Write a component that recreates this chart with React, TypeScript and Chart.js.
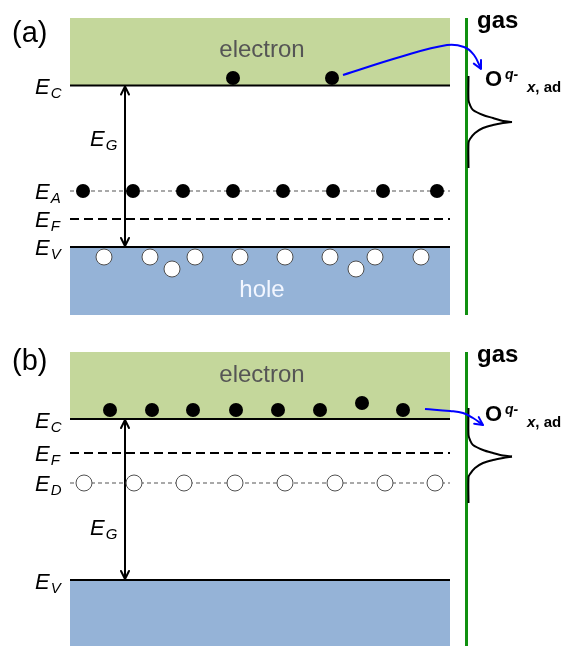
import React, { useEffect, useRef } from "react";
import { Chart, registerables } from "chart.js";

Chart.register(...registerables);

// ---------- diagram data (diagram units: x to the right, energy drawn downward) ----------
const WIDTH = 563;
const HEIGHT = 646;
const FONT = "'Liberation Sans', Arial, sans-serif";

const bandX = [70, 450]; // left / right edge of the semiconductor bands

// panel (a) p-type
const cbTopA = 18;
const levelNamesA = ["C", "A", "F", "V"];
const levelsA = [85.5, 191, 219, 247]; // EC, EA, EF, EV
const vbBottomA = 315;
const electronsAx = [233, 332];
const electronsAy = [78, 78];
const acceptorsX = [83, 133, 183, 233, 283, 333, 383, 437];
const holesAx = [104, 150, 172, 195, 240, 285, 330, 356, 375, 421];
const holesAy = [257, 257, 269, 257, 257, 257, 257, 269, 257, 257];
const transferAx = [343, 400, 447, 464, 474, 481];
const transferAy = [75, 57, 45, 47, 55, 69];
const adsUpperAx = [468.5, 468.5, 470, 473, 483, 493, 503, 512];
const adsUpperAy = [76, 100, 105, 110, 115, 118, 121, 122];
const adsLowerAx = [512, 503, 493, 483, 475, 470, 468.5, 468.5];
const adsLowerAy = [122, 123, 125, 128, 133, 139, 143, 168];
const gasLineA = [18, 315];

// panel (b) n-type
const cbTopB = 352;
const levelNamesB = ["C", "F", "D", "V"];
const levelsB = [419, 453, 483, 580]; // EC, EF, ED, EV
const vbBottomB = 646;
const electronsBx = [110, 152, 193, 236, 278, 320, 362, 403];
const electronsBy = [410, 410, 410, 410, 410, 410, 403, 410];
const donorsX = [84, 134, 184, 235, 285, 335, 385, 435];
const transferBx = [425, 450, 463, 473, 483];
const transferBy = [409, 411, 413, 418, 425];
const adsUpperBx = [468.5, 468.5, 470, 473, 483, 493, 503, 512];
const adsUpperBy = [408, 435, 440, 445, 450, 453, 455.5, 456.5];
const adsLowerBx = [512, 503, 493, 483, 475, 470, 468.5, 468.5];
const adsLowerBy = [456.5, 458, 460, 463, 468, 474, 477, 503];
const gasLineB = [352, 646];

const gapArrowX = 125;
const gasX = 466.5;

// text labels
const panelTags = ["(a)", "(b)"];
const panelTagY = [42, 370];
const electronLabelY = [57, 382];
const holeLabelY = 297;
const gasLabelY = [28, 362];
const oxLabelY = [86, 421];
const labelBaselinesA = [94, 199, 227, 255];
const labelBaselinesB = [428, 461, 491, 589];
const gapLabelY = [146, 535];

const GREEN = "#c4d79b";
const BLUE = "#95b3d7";

const pts = (xs: number[], ys: number[]) => xs.map((x, i) => ({ x, y: ys[i] }));
const hline = (y: number) => [
  { x: bandX[0], y },
  { x: bandX[1], y },
];

function buildDatasets(): any[] {
  const ds: any[] = [];
  const base = { pointRadius: 0, pointHoverRadius: 0, tension: 0, clip: false };

  // band boxes
  ds.push({ ...base, data: hline(cbTopA), fill: { value: levelsA[0] }, backgroundColor: GREEN, borderWidth: 0, order: 30 });
  ds.push({ ...base, data: hline(vbBottomA), fill: { value: levelsA[3] }, backgroundColor: BLUE, borderWidth: 0, order: 30 });
  ds.push({ ...base, data: hline(cbTopB), fill: { value: levelsB[0] }, backgroundColor: GREEN, borderWidth: 0, order: 30 });
  ds.push({ ...base, data: hline(vbBottomB), fill: { value: levelsB[3] }, backgroundColor: BLUE, borderWidth: 0, order: 30 });

  // band edges
  for (const y of [levelsA[0], levelsA[3], levelsB[0], levelsB[3]]) {
    ds.push({ ...base, data: hline(y), borderColor: "#000", borderWidth: 2, fill: false, order: 20 });
  }
  // Fermi levels
  for (const y of [levelsA[2], levelsB[1]]) {
    ds.push({ ...base, data: hline(y), borderColor: "#000", borderWidth: 2, borderDash: [9, 5], fill: false, order: 20 });
  }
  // acceptor / donor levels
  for (const y of [levelsA[1], levelsB[2]]) {
    ds.push({ ...base, data: hline(y), borderColor: "#555", borderWidth: 1.2, borderDash: [4, 3], fill: false, order: 20 });
  }

  // gas boundary lines
  ds.push({ ...base, data: [{ x: gasX, y: gasLineA[0] }, { x: gasX, y: gasLineA[1] }], borderColor: "#109010", borderWidth: 3, fill: false, order: 19 });
  ds.push({ ...base, data: [{ x: gasX, y: gasLineB[0] }, { x: gasX, y: gasLineB[1] }], borderColor: "#109010", borderWidth: 3, fill: false, order: 19 });

  // adsorbate density of states curves
  for (const [xs, ys] of [
    [adsUpperAx, adsUpperAy],
    [adsLowerAx, adsLowerAy],
    [adsUpperBx, adsUpperBy],
    [adsLowerBx, adsLowerBy],
  ] as number[][][]) {
    ds.push({ ...base, data: pts(xs, ys), borderColor: "#000", borderWidth: 2, tension: 0.3, fill: false, order: 18 });
  }

  // band-gap arrows
  ds.push({ ...base, data: [{ x: gapArrowX, y: levelsA[0] + 1 }, { x: gapArrowX, y: levelsA[3] - 1 }], borderColor: "#000", borderWidth: 2, fill: false, order: 10, arrowHeads: { start: true, end: true, len: 8, half: 4 } });
  ds.push({ ...base, data: [{ x: gapArrowX, y: levelsB[0] + 1 }, { x: gapArrowX, y: levelsB[3] - 1 }], borderColor: "#000", borderWidth: 2, fill: false, order: 10, arrowHeads: { start: true, end: true, len: 8, half: 4 } });

  // electron transfer arrows
  ds.push({ ...base, data: pts(transferAx, transferAy), borderColor: "#0000ff", borderWidth: 2, tension: 0.4, fill: false, order: 10, arrowHeads: { end: true, len: 8, half: 4 } });
  ds.push({ ...base, data: pts(transferBx, transferBy), borderColor: "#0000ff", borderWidth: 2, tension: 0.4, fill: false, order: 10, arrowHeads: { end: true, len: 8, half: 4 } });

  // electrons (filled)
  const electronStyle = { showLine: false, pointRadius: 7, pointHoverRadius: 7, pointBackgroundColor: "#000", pointBorderColor: "#000", pointBorderWidth: 0, clip: false, order: 5 };
  ds.push({ ...electronStyle, data: pts(electronsAx, electronsAy) });
  ds.push({ ...electronStyle, data: acceptorsX.map((x) => ({ x, y: levelsA[1] })) });
  ds.push({ ...electronStyle, data: pts(electronsBx, electronsBy) });

  // holes (open)
  const holeStyle = { showLine: false, pointRadius: 8, pointHoverRadius: 8, pointBackgroundColor: "#fff", pointBorderColor: "#505050", pointBorderWidth: 1, clip: false, order: 5 };
  ds.push({ ...holeStyle, data: pts(holesAx, holesAy) });
  ds.push({ ...holeStyle, data: donorsX.map((x) => ({ x, y: levelsB[2] })) });

  return ds;
}

const arrowPlugin = {
  id: "arrowHeads",
  afterDatasetsDraw(chart: any) {
    const ctx = chart.ctx;
    chart.data.datasets.forEach((ds: any, i: number) => {
      if (!ds.arrowHeads) return;
      const p = chart.getDatasetMeta(i).data;
      const heads: any[] = [];
      if (ds.arrowHeads.end) heads.push([p[p.length - 2], p[p.length - 1]]);
      if (ds.arrowHeads.start) heads.push([p[1], p[0]]);
      for (const [a, b] of heads) {
        const ang = Math.atan2(b.y - a.y, b.x - a.x);
        const c = Math.cos(ang), s = Math.sin(ang);
        const L = ds.arrowHeads.len, H = ds.arrowHeads.half;
        const bx = b.x - L * c, by = b.y - L * s;
        ctx.save();
        ctx.strokeStyle = ds.borderColor;
        ctx.lineWidth = ds.borderWidth;
        ctx.lineCap = "round";
        ctx.lineJoin = "round";
        ctx.beginPath();
        ctx.moveTo(bx - H * s, by + H * c);
        ctx.lineTo(b.x, b.y);
        ctx.lineTo(bx + H * s, by - H * c);
        ctx.stroke();
        ctx.restore();
      }
    });
  },
};

type Run = { t: string; font: string; dx?: number; dy?: number };

const textPlugin = {
  id: "diagramText",
  afterDraw(chart: any) {
    const ctx = chart.ctx;
    const X = (v: number) => chart.scales.x.getPixelForValue(v);
    const Y = (v: number) => chart.scales.y.getPixelForValue(v);
    const runs = (x: number, y: number, list: Run[], color = "#000") => {
      let cx = X(x);
      const cy = Y(y);
      ctx.fillStyle = color;
      ctx.textAlign = "left";
      ctx.textBaseline = "alphabetic";
      for (const r of list) {
        ctx.font = r.font;
        cx += r.dx || 0;
        ctx.fillText(r.t, cx, cy + (r.dy || 0));
        cx += ctx.measureText(r.t).width;
      }
    };
    const center = (x: number, y: number, t: string, font: string, color: string) => {
      ctx.font = font;
      ctx.fillStyle = color;
      ctx.textAlign = "center";
      ctx.textBaseline = "alphabetic";
      ctx.fillText(t, X(x), Y(y));
    };
    const eLabel = (x: number, y: number, sub: string) =>
      runs(x, y, [
        { t: "E", font: `italic 22px ${FONT}` },
        { t: sub, font: `italic 15px ${FONT}`, dx: 1, dy: 4 },
      ]);

    ctx.save();
    // panel tags
    panelTags.forEach((t, i) => runs(12, panelTagY[i], [{ t, font: `29px ${FONT}` }]));
    // band names
    electronLabelY.forEach((y) => center(262, y, "electron", `24px ${FONT}`, "#555555"));
    center(262, holeLabelY, "hole", `24px ${FONT}`, "#f2f6ff");
    // gas side
    gasLabelY.forEach((y) => runs(477, y, [{ t: "gas", font: `bold 24px ${FONT}` }]));
    oxLabelY.forEach((y) => {
      runs(485, y, [{ t: "O", font: `bold 22px ${FONT}` }]);
      runs(505, y - 7, [{ t: "q-", font: `italic bold 14px ${FONT}` }]);
      runs(527, y + 6, [
        { t: "x", font: `italic bold 15px ${FONT}` },
        { t: ", ad", font: `bold 15px ${FONT}` },
      ]);
    });
    // energy levels
    levelNamesA.forEach((n, i) => eLabel(35, labelBaselinesA[i], n));
    levelNamesB.forEach((n, i) => eLabel(35, labelBaselinesB[i], n));
    gapLabelY.forEach((y) => eLabel(90, y, "G"));
    ctx.restore();
  },
};

export default function App() {
  const ref = useRef<HTMLCanvasElement>(null);
  useEffect(() => {
    if (!ref.current) return;
    const chart = new Chart(ref.current, {
      type: "line",
      data: { datasets: buildDatasets() },
      options: {
        animation: false,
        responsive: false,
        devicePixelRatio: 1,
        events: [],
        layout: { padding: 0, autoPadding: false },
        plugins: { legend: { display: false }, tooltip: { enabled: false }, title: { display: false } },
        scales: {
          x: { type: "linear", min: 0, max: WIDTH, display: false },
          y: { type: "linear", min: 0, max: HEIGHT, reverse: true, display: false },
        },
      },
      plugins: [arrowPlugin, textPlugin],
    } as any);
    return () => chart.destroy();
  }, []);
  return (
    <div style={{ position: "absolute", left: 0, top: 0, width: WIDTH, height: HEIGHT, background: "#fff" }}>
      <canvas ref={ref} width={WIDTH} height={HEIGHT} style={{ display: "block" }} />
    </div>
  );
}
